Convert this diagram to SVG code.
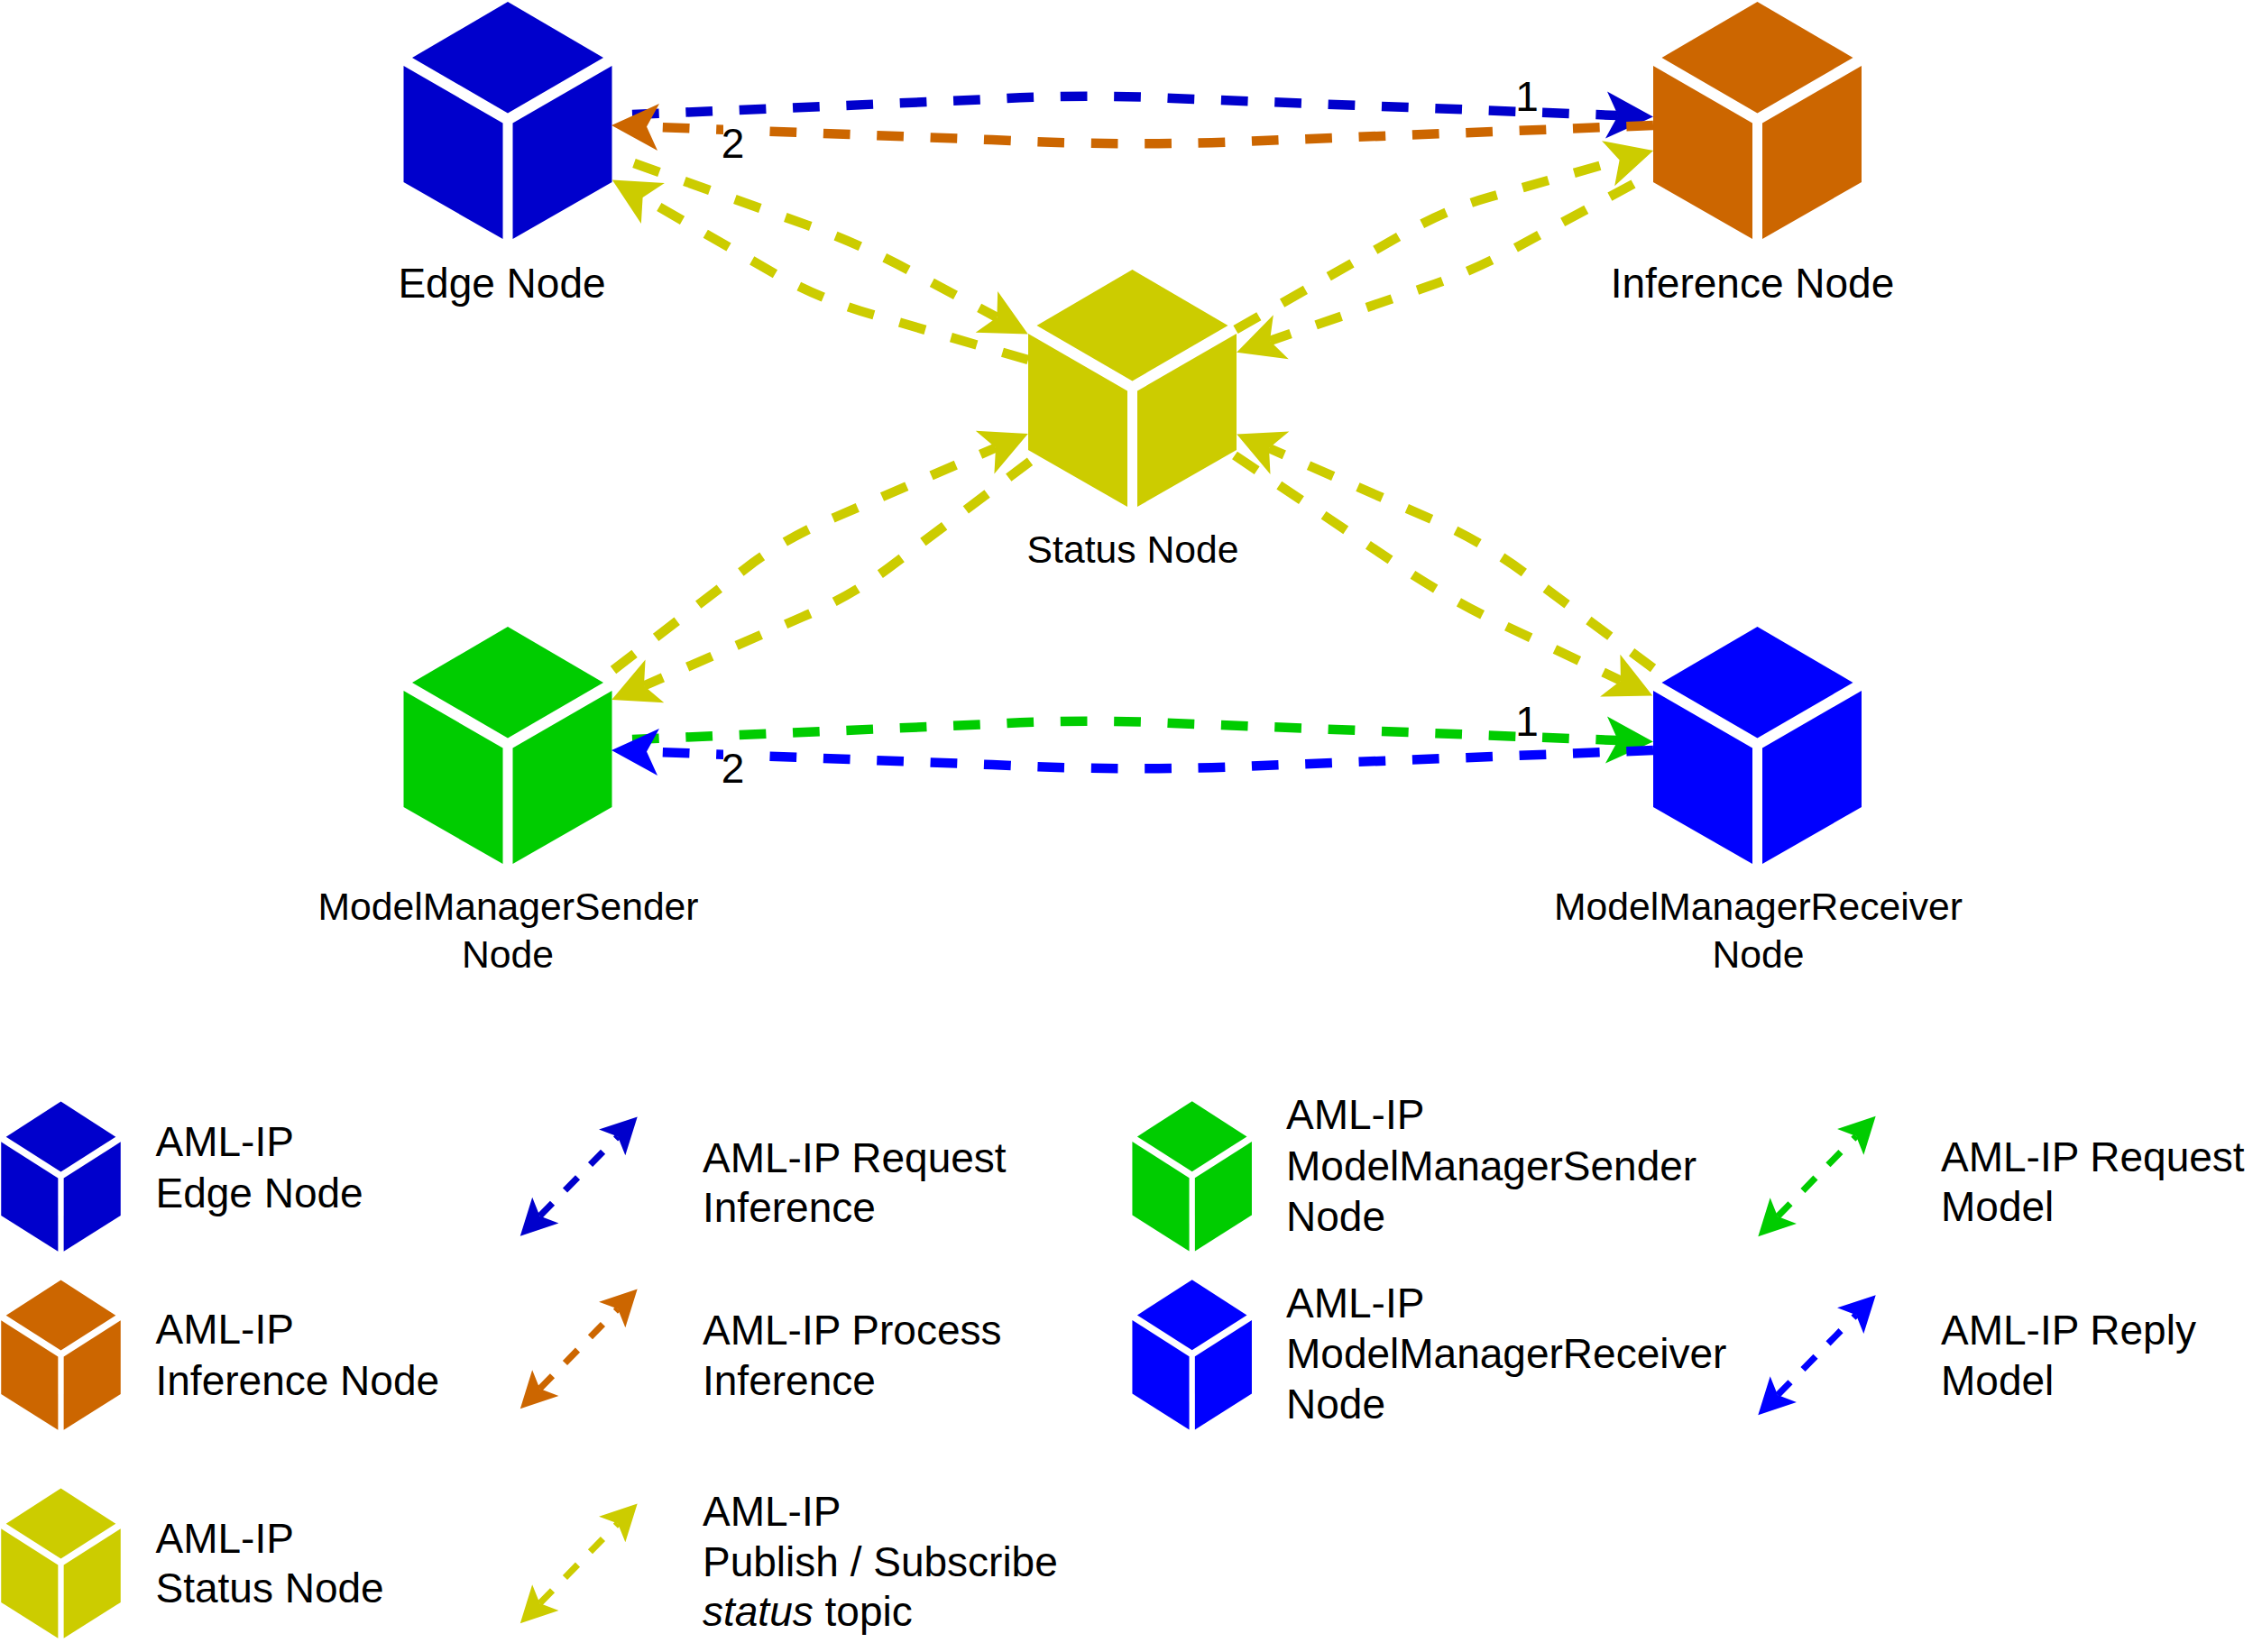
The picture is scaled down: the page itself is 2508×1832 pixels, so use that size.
<svg xmlns="http://www.w3.org/2000/svg" width="2508" height="1832" viewBox="0 0 2508 1832">
<style>
text{font-family:"Liberation Sans",Arial,sans-serif;fill:#000}
.n{font-size:42.67px;text-anchor:middle}
.b{font-size:46px;text-anchor:middle}
.l{font-size:46px}
.c{fill:none;stroke-width:10.5;stroke-dasharray:29.7 29.7}
.k{fill:none;stroke-width:7.2;stroke-dasharray:20 20}
.db{stroke:#0000CC}.or{stroke:#CC6600}.ye{stroke:#CCCC00}.gr{stroke:#00CC00}.bl{stroke:#0000FF}
</style>
<defs>
<g id="cube">
<polygon points="0,0 106,62 0,123.5 -106,62"/>
<polygon points="-115.5,71 -5.5,134.5 -5.5,263 -115.5,200"/>
<polygon points="115.5,71 5.5,134.5 5.5,263 115.5,200"/>
</g>
<marker id="hdb" markerUnits="userSpaceOnUse" viewBox="-20 -30 70 60" markerWidth="70" markerHeight="60" refX="0" refY="0" orient="auto"><polygon points="0,0 -13,-26 39,0 -13,26" fill="#0000CC"/></marker>
<marker id="hor" markerUnits="userSpaceOnUse" viewBox="-20 -30 70 60" markerWidth="70" markerHeight="60" refX="0" refY="0" orient="auto"><polygon points="0,0 -13,-26 39,0 -13,26" fill="#CC6600"/></marker>
<marker id="hye" markerUnits="userSpaceOnUse" viewBox="-20 -30 70 60" markerWidth="70" markerHeight="60" refX="0" refY="0" orient="auto"><polygon points="0,0 -13,-26 39,0 -13,26" fill="#CCCC00"/></marker>
<marker id="hgr" markerUnits="userSpaceOnUse" viewBox="-20 -30 70 60" markerWidth="70" markerHeight="60" refX="0" refY="0" orient="auto"><polygon points="0,0 -13,-26 39,0 -13,26" fill="#00CC00"/></marker>
<marker id="hbl" markerUnits="userSpaceOnUse" viewBox="-20 -30 70 60" markerWidth="70" markerHeight="60" refX="0" refY="0" orient="auto"><polygon points="0,0 -13,-26 39,0 -13,26" fill="#0000FF"/></marker>
<marker id="sdb" markerUnits="userSpaceOnUse" viewBox="-20 -30 70 60" markerWidth="70" markerHeight="60" refX="0" refY="0" orient="auto-start-reverse"><polygon points="0,0 -9,-20.5 31,0 -9,20.5" fill="#0000CC"/></marker>
<marker id="sor" markerUnits="userSpaceOnUse" viewBox="-20 -30 70 60" markerWidth="70" markerHeight="60" refX="0" refY="0" orient="auto-start-reverse"><polygon points="0,0 -9,-20.5 31,0 -9,20.5" fill="#CC6600"/></marker>
<marker id="sye" markerUnits="userSpaceOnUse" viewBox="-20 -30 70 60" markerWidth="70" markerHeight="60" refX="0" refY="0" orient="auto-start-reverse"><polygon points="0,0 -9,-20.5 31,0 -9,20.5" fill="#CCCC00"/></marker>
<marker id="sgr" markerUnits="userSpaceOnUse" viewBox="-20 -30 70 60" markerWidth="70" markerHeight="60" refX="0" refY="0" orient="auto-start-reverse"><polygon points="0,0 -9,-20.5 31,0 -9,20.5" fill="#00CC00"/></marker>
<marker id="sbl" markerUnits="userSpaceOnUse" viewBox="-20 -30 70 60" markerWidth="70" markerHeight="60" refX="0" refY="0" orient="auto-start-reverse"><polygon points="0,0 -9,-20.5 31,0 -9,20.5" fill="#0000FF"/></marker>
</defs>

<g id="node-edge"><use href="#cube" transform="translate(563,2)" fill="#0000CC"/><text class="b" x="556.5" y="329.5">Edge Node</text></g>
<g id="node-inference"><use href="#cube" transform="translate(1948.5,2)" fill="#CC6600"/><text class="b" x="1943" y="329.5">Inference Node</text></g>
<g id="node-status"><use href="#cube" transform="translate(1255.5,299)" fill="#CCCC00"/><text class="n" x="1256" y="623.5">Status Node</text></g>
<g id="node-sender"><use href="#cube" transform="translate(563,695)" fill="#00CC00"/><text class="n" x="563.5" y="1020">ModelManagerSender</text><text class="n" x="563" y="1072.5">Node</text></g>
<g id="node-receiver"><use href="#cube" transform="translate(1948.5,695)" fill="#0000FF"/><text class="n" x="1949.5" y="1020">ModelManagerReceiver</text><text class="n" x="1949.5" y="1072.5">Node</text></g>

<g id="connectors">
<path class="c db" d="M701 127 L1100 110 Q1200 104 1300 109 L1794 128" marker-end="url(#hdb)"/>
<path class="c or" d="M1833 139 L1400 156 Q1255 163 1100 155 L717 140.5" marker-end="url(#hor)"/>
<path class="c ye" d="M703 181 L895 249.6 Q955 271 1010 301 L1105.4 352" marker-end="url(#hye)"/>
<path class="c ye" d="M1140 399 L970 349.6 Q914 334 860 304 L712.6 219" marker-end="url(#hye)"/>
<path class="c ye" d="M1370 365.5 L1555 260 Q1604 232 1650 219 L1795.6 177.6" marker-end="url(#hye)"/>
<path class="c ye" d="M1811 204 L1680 275 Q1632 301 1585 317 L1408 378" marker-end="url(#hye)"/>
<path class="c ye" d="M680 743 L835 624 Q875 595 925 574 L1104 496.5" marker-end="url(#hye)"/>
<path class="c ye" d="M1142 511.7 L985 630 Q942 662 890 684 L714 760.5" marker-end="url(#hye)"/>
<path class="c ye" d="M1833 741 L1690 635 Q1642 600 1590 577 L1407 497" marker-end="url(#hye)"/>
<path class="c ye" d="M1369 505 L1555 630 Q1604 662 1650 685 L1797 754.7" marker-end="url(#hye)"/>
<path class="c gr" d="M701 820 L1100 803 Q1200 797 1300 802 L1794 821" marker-end="url(#hgr)"/>
<path class="c bl" d="M1833 832 L1400 849 Q1255 856 1100 848 L717 833.5" marker-end="url(#hbl)"/>
</g>

<g id="edge-labels">
<text class="b" x="1693" y="123">1</text>
<rect x="802" y="131" width="26" height="47" fill="#fff"/>
<text class="b" x="812.5" y="175">2</text>
<text class="b" x="1693" y="816">1</text>
<rect x="802" y="824" width="26" height="47" fill="#fff"/>
<text class="b" x="812.5" y="868">2</text>
</g>

<g id="legend-edge"><use href="#cube" transform="translate(67.5,1221.5) scale(.5736,.632)" fill="#0000CC"/><text class="l" x="172.5" y="1282">AML-IP</text><text class="l" x="172.5" y="1339">Edge Node</text></g>
<g id="legend-inference"><use href="#cube" transform="translate(67.5,1419.5) scale(.5736,.632)" fill="#CC6600"/><text class="l" x="172.5" y="1490">AML-IP</text><text class="l" x="172.5" y="1547">Inference Node</text></g>
<g id="legend-status"><use href="#cube" transform="translate(67.5,1650.5) scale(.5736,.632)" fill="#CCCC00"/><text class="l" x="172.5" y="1721.5">AML-IP</text><text class="l" x="172.5" y="1777">Status Node</text></g>
<g id="legend-sender"><use href="#cube" transform="translate(1321.7,1221.2) scale(.5736,.632)" fill="#00CC00"/><text class="l" x="1426" y="1252">AML-IP</text><text class="l" x="1426" y="1309">ModelManagerSender</text><text class="l" x="1426" y="1365">Node</text></g>
<g id="legend-receiver"><use href="#cube" transform="translate(1321.7,1419.2) scale(.5736,.632)" fill="#0000FF"/><text class="l" x="1426" y="1460.7">AML-IP</text><text class="l" x="1426" y="1517">ModelManagerReceiver</text><text class="l" x="1426" y="1572.7">Node</text></g>

<g id="legend-connectors">
<path class="k db" d="M598.5 1348.6 L685 1260.5" marker-start="url(#sdb)" marker-end="url(#sdb)"/>
<path class="k or" d="M598.5 1540 L685 1451.6" marker-start="url(#sor)" marker-end="url(#sor)"/>
<path class="k ye" d="M598.5 1778 L685 1689.6" marker-start="url(#sye)" marker-end="url(#sye)"/>
<path class="k gr" d="M1971 1349 L2058 1260" marker-start="url(#sgr)" marker-end="url(#sgr)"/>
<path class="k bl" d="M1971 1547 L2058 1458.3" marker-start="url(#sbl)" marker-end="url(#sbl)"/>
</g>

<g id="legend-texts">
<text class="l" x="779" y="1300">AML-IP Request</text><text class="l" x="779" y="1355">Inference</text>
<text class="l" x="779" y="1490.5">AML-IP Process</text><text class="l" x="779" y="1546.5">Inference</text>
<text class="l" x="779" y="1692">AML-IP</text><text class="l" x="779" y="1747.5">Publish / Subscribe</text><text class="l" x="779" y="1803"><tspan font-style="italic">status</tspan> topic</text>
<text class="l" x="2152" y="1299.3">AML-IP Request</text><text class="l" x="2152" y="1354">Model</text>
<text class="l" x="2152" y="1490.7">AML-IP Reply</text><text class="l" x="2152" y="1546.7">Model</text>
</g>
</svg>
